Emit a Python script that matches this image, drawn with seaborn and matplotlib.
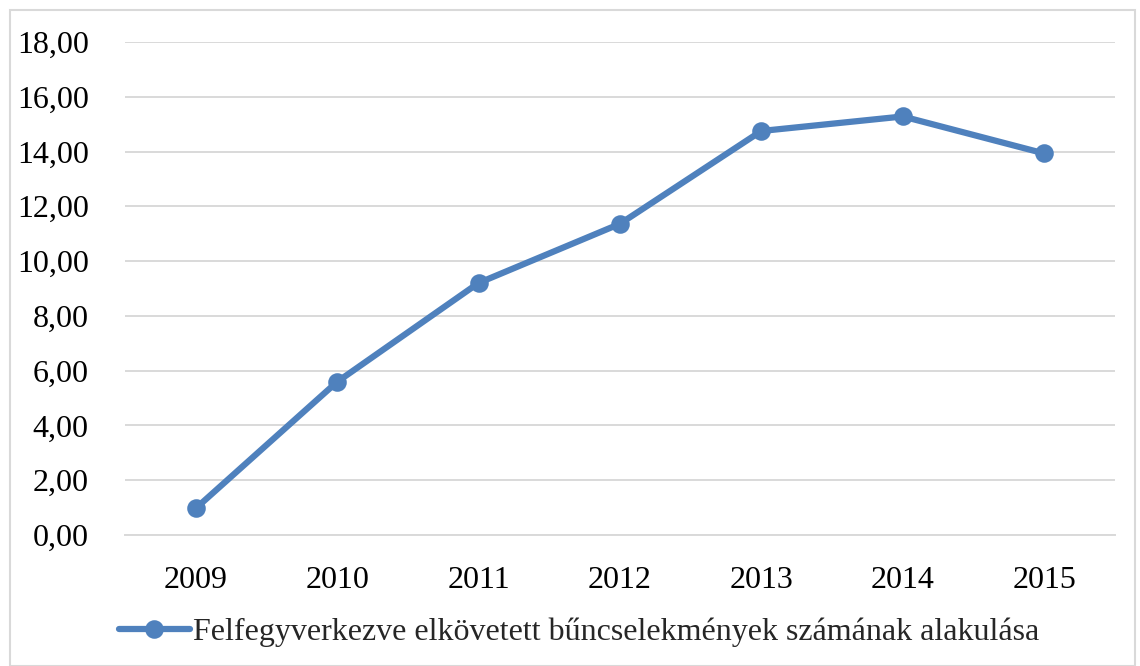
import matplotlib
matplotlib.use("Agg")
import matplotlib.pyplot as plt
import matplotlib.patches as mpatches
from matplotlib.ticker import FuncFormatter, MultipleLocator
import seaborn as sns
import pandas as pd

years = ["2009", "2010", "2011", "2012", "2013", "2014", "2015"]
values = [0.97, 5.59, 9.20, 11.36, 14.75, 15.28, 13.93]
series_name = "Felfegyverkezve elkövetett bűncselekmények számának alakulása"

df = pd.DataFrame({"year": years, "value": values})

sns.set_style("white")
plt.rcParams["font.family"] = ["Liberation Serif", "DejaVu Serif"]

blue = "#4F81BD"
grid_gray = "#D9D9D9"

fig = plt.figure(figsize=(11.4, 6.66), dpi=100)
ax = fig.add_axes([0.1096, 0.1967, 0.8684, 0.7403])

sns.pointplot(data=df, x="year", y="value", color=blue, markers="o",
              linestyles="-", markersize=10, linewidth=4.5, label=series_name, ax=ax)

ax.set_xlim(-0.5, len(years) - 0.5)
ax.set_ylim(0, 18)
ax.yaxis.set_major_locator(MultipleLocator(2))
ax.yaxis.set_major_formatter(FuncFormatter(lambda v, p: f"{v:.2f}".replace(".", ",")))
ax.grid(axis="y", color=grid_gray, linewidth=1.4)
ax.set_axisbelow(True)
for s in ["top", "right", "left"]:
    ax.spines[s].set_visible(False)
ax.spines["bottom"].set_color(grid_gray)
ax.spines["bottom"].set_linewidth(1.4)
ax.tick_params(axis="both", length=0, labelsize=23, colors="black")
ax.tick_params(axis="y", pad=26)
ax.tick_params(axis="x", pad=22)
ax.set_xlabel("")
ax.set_ylabel("")
if ax.get_legend() is not None:
    ax.get_legend().remove()

handles, labels = ax.get_legend_handles_labels()
fig.legend(handles[:1], labels[:1], loc="center", bbox_to_anchor=(0.508, 0.051),
           frameon=False, fontsize=23, handlelength=2.2, handletextpad=0.1)

fig.patches.append(mpatches.Rectangle((10 / 1140, 0), 1125 / 1140, 656 / 666,
                                      transform=fig.transFigure, fill=False,
                                      edgecolor=grid_gray, linewidth=1.5))

fig.savefig("out.png", dpi=100)
